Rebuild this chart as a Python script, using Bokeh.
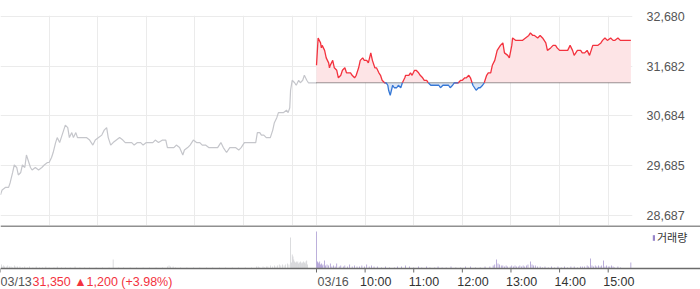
import numpy as np
from bokeh.plotting import figure
from bokeh.layouts import column
from bokeh.core.properties import value
from bokeh.models import (Range1d, FixedTicker, NumeralTickFormatter, Span,
                          Legend, LegendItem)
from bokeh.embed import file_html
from bokeh.resources import INLINE

# ---------------- data ----------------
# x = session minutes: 03/13 09:00 -> 0 ... 15:30 -> 390 ; 03/16 09:00 -> 390 ... 15:30 -> 780
SESSION_MIN = 390
DAY_LABELS = ["03/13", "03/16"]
HOUR_LABELS = ["10:00", "11:00", "12:00", "13:00", "14:00", "15:00"]
PREV_CLOSE = 30150       # close of 03/12
CLOSE_0313 = 31350       # close of 03/13 (base line for 03/16)
Y_TICKS = [28687, 29685, 30684, 31682, 32680]

# 03/13 price (gray)
t1 = [0, 2, 6, 10, 12, 15, 17, 20, 22, 25, 27, 30, 32, 35, 37, 39, 43, 47, 51, 54,
      58, 60, 63, 65, 68, 70, 73, 75, 78, 80, 83, 85, 88, 90, 93, 95, 99, 102, 106, 110,
      114, 117, 121, 125, 128, 131, 133, 136, 139, 143, 147, 151, 154, 158, 162, 165, 169, 173, 176, 180,
      184, 188, 191, 195, 200, 204, 206, 210, 214, 217, 221, 225, 227, 231, 234, 238, 242, 246, 249, 253,
      257, 260, 264, 268, 272, 275, 279, 283, 286, 290, 294, 297, 301, 306, 311, 315, 317, 320, 322, 325,
      328, 333, 336, 338, 341, 343, 346, 349, 353, 355, 357, 358, 360, 363, 365, 368, 370, 373, 375, 378,
      380, 385, 390]
p1 = [29100, 29200, 29250, 29250, 29350, 29550, 29700, 29650, 29500, 29550,
      29700, 29650, 29900, 29750, 29650, 29600, 29650, 29600, 29650, 29700,
      29750, 29750, 29850, 29950, 30150, 30250, 30150, 30250, 30400, 30500,
      30450, 30250, 30350, 30250, 30350, 30250, 30250, 30250, 30250, 30200,
      30100, 30200, 30250, 30300, 30400, 30450, 30250, 30100, 30150, 30200,
      30250, 30200, 30150, 30150, 30150, 30100, 30150, 30150, 30100, 30150,
      30150, 30150, 30200, 30150, 30200, 30200, 30050, 30050, 30050, 30100,
      30050, 29900, 30000, 30050, 30100, 30200, 30150, 30150, 30100, 30100,
      30050, 30050, 30050, 30050, 30150, 30050, 29950, 30050, 30050, 30050,
      30000, 30050, 30150, 30150, 30150, 30150, 30350, 30350, 30300, 30300,
      30250, 30250, 30400, 30550, 30650, 30750, 30750, 30750, 30800, 30750,
      30850, 31200, 31400, 31350, 31300, 31400, 31350, 31400, 31500, 31400,
      31350, 31350, 31350]

# 03/16 price (red above / blue below the 03/13 close)
t2 = [390, 392, 395, 396, 397, 400, 402, 405, 406, 407,
      410, 412, 415, 417, 420, 422, 425, 427, 429, 432,
      434, 437, 439, 442, 444, 447, 449, 452, 454, 457,
      459, 462, 464, 467, 469, 471, 474, 476, 478, 479,
      481, 484, 486, 489, 491, 494, 496, 499, 500, 504,
      506, 508, 511, 513, 516, 518, 521, 523, 526, 528,
      531, 533, 536, 538, 541, 543, 546, 548, 550, 553,
      555, 558, 560, 563, 565, 568, 570, 573, 575, 578,
      580, 583, 585, 587, 590, 592, 595, 597, 600, 602,
      605, 607, 610, 613, 617, 620, 622, 626, 628, 631,
      632, 636, 639, 642, 644, 648, 652, 654, 657, 659,
      663, 666, 669, 673, 675, 679, 682, 685, 687, 690,
      694, 697, 700, 703, 706, 708, 712, 716, 718, 721,
      724, 727, 731, 734, 737, 741, 743, 746, 749, 753,
      756, 758, 762, 765, 770, 774, 778]
p2 = [31700, 32250, 32150, 32050, 32100, 32000, 31850, 31750, 31650, 31700,
      31800, 31650, 31600, 31450, 31500, 31600, 31650, 31550, 31550, 31550,
      31500, 31450, 31500, 31650, 31800, 31850, 31800, 31800, 31750, 31950,
      31800, 31650, 31650, 31550, 31500, 31400, 31350, 31350, 31300, 31200,
      31100, 31300, 31250, 31250, 31300, 31250, 31350, 31450, 31500, 31500,
      31550, 31500, 31600, 31600, 31550, 31500, 31450, 31400, 31400, 31350,
      31300, 31300, 31300, 31300, 31300, 31250, 31300, 31300, 31300, 31300,
      31250, 31300, 31350, 31350, 31350, 31400, 31400, 31450, 31450, 31500,
      31450, 31300, 31250, 31200, 31250, 31250, 31300, 31350, 31500, 31550,
      31550, 31700, 31800, 32000, 32100, 32150, 31950, 31900, 31850, 32100,
      32250, 32200, 32200, 32200, 32200, 32250, 32300, 32350, 32300, 32300,
      32250, 32300, 32250, 32150, 32000, 32050, 32100, 32100, 32050, 32000,
      32000, 32000, 32000, 32100, 32000, 31900, 32000, 32000, 31950, 31950,
      32000, 31900, 32100, 32100, 32100, 32150, 32200, 32250, 32200, 32250,
      32200, 32200, 32250, 32200, 32200, 32200, 32200]

# volume (thousand shares per minute)
vt1 = [1, 2, 4, 5, 7, 9, 11, 13, 15, 17, 19, 21, 24, 27, 30, 33, 36, 40, 44, 48,
       52, 56, 60, 66, 70, 75, 80, 86, 92, 98, 104, 110, 118, 126, 134, 139, 146, 152, 160, 168,
       176, 184, 192, 200, 206, 208, 210, 213, 216, 222, 230, 238, 246, 254, 262, 270, 278, 286, 294, 302,
       310, 316, 318, 320, 324, 326, 328, 330, 333, 336, 338, 340, 342, 344, 346, 348, 350, 352, 354, 356,
       358, 359, 360, 361, 362, 363, 364, 365, 366, 367, 368, 369, 370, 371, 372, 373, 374, 375, 376, 377,
       378, 379]
vv1 = [8, 4, 6, 4, 4, 6, 4, 4, 2, 6, 4, 4, 4, 2, 4, 2, 4, 2, 4, 2,
       2, 4, 2, 2, 4, 2, 2, 2, 4, 2, 2, 2, 2, 2, 2, 18, 2, 2, 2, 2,
       2, 2, 2, 2, 4, 6, 4, 4, 2, 2, 2, 2, 2, 2, 2, 2, 2, 2, 2, 2,
       2, 4, 4, 2, 4, 2, 4, 4, 6, 4, 6, 4, 6, 8, 6, 8, 6, 8, 10, 8,
       62, 12, 28, 24, 18, 14, 12, 14, 12, 14, 10, 12, 14, 12, 10, 12, 14, 12, 10, 14,
       16, 8]
vt2 = [390, 391, 392, 393, 394, 395, 396, 397, 398, 400,
       401, 403, 405, 407, 409, 411, 413, 415, 418, 420,
       423, 425, 428, 431, 434, 437, 440, 443, 446, 449,
       452, 455, 458, 461, 465, 470, 475, 480, 486, 490,
       495, 500, 505, 510, 516, 520, 526, 530, 536, 540,
       545, 550, 556, 562, 568, 574, 580, 586, 592, 598,
       604, 608, 610, 612, 614, 616, 618, 620, 622, 624,
       626, 629, 631, 633, 635, 637, 639, 641, 643, 645,
       647, 649, 651, 654, 656, 658, 660, 663, 666, 669,
       672, 676, 680, 684, 688, 692, 696, 700, 704, 708,
       712, 716, 718, 721, 724, 726, 728, 730, 732, 734,
       736, 738, 740, 742, 744, 746, 748, 750, 752, 754,
       756, 758, 762, 765, 778]
vv2 = [74, 14, 12, 10, 14, 8, 10, 6, 8, 16,
       6, 8, 6, 10, 4, 6, 4, 10, 4, 6,
       4, 6, 4, 8, 4, 6, 4, 4, 6, 4,
       8, 4, 6, 4, 4, 2, 4, 2, 2, 4,
       4, 6, 4, 2, 4, 2, 4, 2, 2, 4,
       2, 2, 4, 2, 2, 4, 4, 2, 2, 4,
       4, 6, 8, 18, 10, 8, 6, 6, 4, 6,
       4, 4, 6, 4, 6, 4, 4, 6, 4, 6,
       4, 6, 8, 14, 8, 6, 6, 4, 4, 2,
       4, 2, 4, 2, 4, 2, 4, 2, 4, 4,
       2, 4, 4, 4, 6, 4, 20, 6, 4, 6,
       4, 6, 4, 6, 16, 4, 6, 4, 4, 6,
       4, 2, 4, 2, 12]

# ---------------- style ----------------
FIG_W = 700
PRICE_H, VOL_H = 225, 64
RIGHT_BORDER = 68
PRICE_FRAME_W = FIG_W - RIGHT_BORDER
TOTAL_MIN = 2 * SESSION_MIN
Y_MIN, Y_MAX = 28486, 32700
VOL_PER_PX = 2            # volume units per pixel in the volume panel
VOL_PANEL_PX = 43         # volume area height (px)
LABEL_BAND_PX = 21        # time-label band below the volume axis (px)

FONT = "Liberation Sans"
GRID = "#ebebeb"
GRAY_LINE = "#c5c6cb"
RED = "#f3323e"
BLUE = "#3678d6"
RED_FILL = "#fde4e6"
BLUE_FILL = "#dce8f7"
VOL_GRAY = "#c8c9cd"
VOL_PURPLE = "#9784c8"
AXIS_DARK = "#6b6b6b"

# ---------------- price panel ----------------
pA = figure(width=FIG_W, height=PRICE_H, output_backend="svg", toolbar_location=None,
            tools="", x_axis_location=None, y_axis_location="right",
            x_range=Range1d(0, TOTAL_MIN), y_range=Range1d(Y_MIN, Y_MAX),
            min_border_left=0, min_border_right=RIGHT_BORDER,
            min_border_top=15, min_border_bottom=0)
pA.frame_align = False
pA.outline_line_color = None
pA.background_fill_color = "white"
pA.border_fill_color = "white"

grid_ticks = [h * 60 for h in range(7)] + [SESSION_MIN + h * 60 for h in range(7)]
pA.xgrid.ticker = FixedTicker(ticks=grid_ticks)
pA.xgrid.grid_line_color = GRID
pA.yaxis.ticker = FixedTicker(ticks=Y_TICKS)
pA.yaxis.formatter = NumeralTickFormatter(format="0,0")
pA.ygrid.grid_line_color = GRID
ya = pA.yaxis[0]
ya.axis_line_color = None
ya.major_tick_line_color = None
ya.minor_tick_line_color = None
ya.major_label_standoff = 8
ya.major_label_text_font = FONT
ya.major_label_text_font_size = "12.5px"
ya.major_label_text_color = "#555555"

# 03/13 gray line
pA.line(t1, p1, line_color=GRAY_LINE, line_width=1.2)


def with_crossings(t, p, base):
    xs, ys = [t[0]], [p[0]]
    for i in range(1, len(t)):
        a, b = p[i - 1] - base, p[i] - base
        if a * b < 0:
            f = a / (a - b)
            xs.append(t[i - 1] + f * (t[i] - t[i - 1]))
            ys.append(base)
        xs.append(t[i])
        ys.append(p[i])
    return np.array(xs, float), np.array(ys, float)


base = CLOSE_0313
xa, yv = with_crossings(t2, p2, base)
pA.varea(x=xa, y1=np.full(len(xa), base), y2=np.maximum(yv, base), fill_color=RED_FILL)
pA.varea(x=xa, y1=np.minimum(yv, base), y2=np.full(len(xa), base), fill_color=BLUE_FILL)
pA.line([t2[0], t2[-1]], [base, base], line_color="#333333", line_width=1, line_dash="1 1")
pA.line(xa, np.where(yv >= base, yv, np.nan), line_color=RED, line_width=1.3)
pA.line(xa, np.where(yv <= base, yv, np.nan), line_color=BLUE, line_width=1.3)

# ---------------- volume panel (+ time scale) ----------------
pB = figure(width=FIG_W, height=VOL_H, output_backend="svg", toolbar_location=None,
            tools="", x_axis_location=None, y_axis_location=None,
            x_range=Range1d(0, TOTAL_MIN * FIG_W / PRICE_FRAME_W),
            y_range=Range1d(-LABEL_BAND_PX * VOL_PER_PX, VOL_PANEL_PX * VOL_PER_PX),
            min_border_left=0, min_border_right=0, min_border_top=0, min_border_bottom=0)
pB.frame_align = False
pB.outline_line_color = None
pB.xgrid.visible = False
pB.ygrid.visible = False
pB.background_fill_color = "white"
pB.border_fill_color = "white"

# separator between panels and the time axis line
pB.add_layout(Span(location=VOL_PANEL_PX * VOL_PER_PX - 0.6 * VOL_PER_PX, dimension="width",
                   line_color=AXIS_DARK, line_width=1.5))

pB.vbar(x=vt1, top=vv1, width=0.8, fill_color=VOL_GRAY, line_color=None)
r_vol2 = pB.vbar(x=vt2, top=vv2, width=0.8, fill_color=VOL_PURPLE, line_color=None)

pB.add_layout(Span(location=0, dimension="width", line_color=AXIS_DARK, line_width=1.5))

vol_ticks = [0, SESSION_MIN] + [SESSION_MIN + 60 * (i + 1) for i in range(len(HOUR_LABELS))]
pB.segment(x0=vol_ticks, y0=[0] * len(vol_ticks), x1=vol_ticks,
           y1=[-4 * VOL_PER_PX] * len(vol_ticks), line_color=AXIS_DARK, line_width=1)

LBL_Y = -13.5 * VOL_PER_PX
chg = CLOSE_0313 - PREV_CLOSE
header = f"{CLOSE_0313:,} ▲{chg:,} (+{chg / PREV_CLOSE * 100:.2f}%)"
pB.text(x=[0], y=[LBL_Y], text=[DAY_LABELS[0]], text_font=value(FONT), text_font_size="12.5px",
        text_color="#555555", text_baseline="middle", text_align="left")
pB.text(x=[0], y=[LBL_Y], text=[header], x_offset=32, text_font=value(FONT),
        text_font_size="12.5px", text_color=RED, text_baseline="middle", text_align="left")
pB.text(x=[SESSION_MIN], y=[LBL_Y], text=[DAY_LABELS[1]], x_offset=1, text_font=value(FONT),
        text_font_size="12.5px", text_color="#555555", text_baseline="middle", text_align="left")
pB.text(x=vol_ticks[2:], y=[LBL_Y] * len(HOUR_LABELS), text=HOUR_LABELS, x_offset=-5,
        text_font=value(FONT), text_font_size="12.5px", text_color="#333333",
        text_baseline="middle", text_align="left")

legend = Legend(items=[LegendItem(label="거래량", renderers=[r_vol2])],
                location=(652, 44), orientation="vertical",
                glyph_width=3, glyph_height=7, label_standoff=2, label_height=12,
                padding=0, margin=0, spacing=0, border_line_color=None,
                background_fill_alpha=0, label_text_font="Noto Sans CJK KR",
                label_text_font_size="11px", label_text_color="#333333",
                label_text_baseline="middle")
pB.add_layout(legend)

layout = column(pA, pB, spacing=0)
open("out.html", "w").write(file_html(layout, INLINE))
